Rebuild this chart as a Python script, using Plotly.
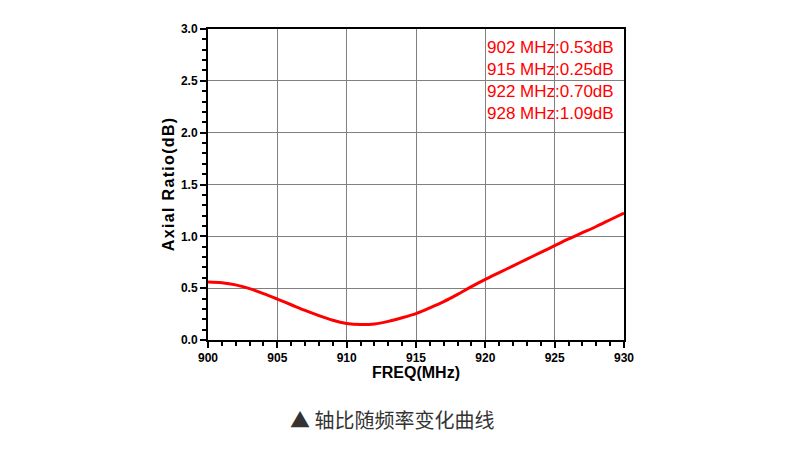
import plotly.graph_objects as go

# Axial ratio vs frequency
freq_mhz = [900, 901, 902, 903, 904, 905, 906, 907, 908, 909, 910,
            911, 912, 913, 914, 915, 916, 917, 918, 919, 920,
            921, 922, 923, 924, 925, 926, 927, 928, 929, 930]
axial_ratio_db = [0.56, 0.553, 0.532, 0.495, 0.448, 0.395, 0.34, 0.285, 0.235, 0.19, 0.16,
                  0.15, 0.155, 0.18, 0.215, 0.255, 0.31, 0.37, 0.44, 0.515, 0.585,
                  0.65, 0.715, 0.78, 0.845, 0.91, 0.975, 1.035, 1.095, 1.16, 1.225]

marker_labels = ["902 MHz:0.53dB", "915 MHz:0.25dB", "922 MHz:0.70dB", "928 MHz:1.09dB"]
x_title = "FREQ(MHz)"
y_title = "Axial Ratio(dB)"
caption = "▲ 轴比随频率变化曲线"

fig = go.Figure(go.Scatter(
    x=freq_mhz, y=axial_ratio_db, mode="lines",
    line=dict(color="#ff0000", width=3, shape="spline", smoothing=0.8),
    showlegend=False,
))

tick_font = dict(family="Arial, Liberation Sans", size=12, color="black", weight="bold")

fig.update_xaxes(
    range=[900, 930], dtick=5, tick0=900,
    showline=True, linecolor="black", linewidth=2, mirror=True,
    showgrid=True, gridcolor="#808080", gridwidth=1, zeroline=False,
    ticks="outside", ticklen=6, tickwidth=2, tickcolor="black",
    minor=dict(dtick=1, ticks="outside", ticklen=4, tickwidth=2, tickcolor="black", showgrid=False),
    tickfont=tick_font,
)
fig.update_yaxes(
    range=[0, 3], dtick=0.5, tick0=0, tickformat=".1f",
    showline=True, linecolor="black", linewidth=2, mirror=True,
    showgrid=True, gridcolor="#808080", gridwidth=1, zeroline=False,
    ticks="outside", ticklen=6, tickwidth=2, tickcolor="black",
    minor=dict(dtick=0.1, ticks="outside", ticklen=4, tickwidth=2, tickcolor="black", showgrid=False),
    tickfont=tick_font,
    # hair spaces give the slightly letter-spaced look of the original
    title=dict(text="<b>" + "\u200a".join(y_title) + "</b>",
               font=dict(family="Arial, Liberation Sans", size=16, color="black"), standoff=2),
)

fig.add_annotation(
    xref="paper", yref="paper", x=0.5, y=-0.105, xanchor="center", yanchor="middle",
    text="<b>" + x_title + "</b>", showarrow=False,
    font=dict(family="Arial, Liberation Sans", size=16, color="black"),
)
fig.add_annotation(
    xref="paper", yref="paper", x=0.667, y=0.978, xanchor="left", yanchor="top",
    text="<br>".join(marker_labels), align="left", showarrow=False,
    font=dict(family="Arial, Liberation Sans", size=17, color="#ff0000"),
)
fig.add_annotation(
    xref="paper", yref="paper", x=0.443, y=-0.257, xanchor="center", yanchor="middle",
    text=caption, showarrow=False,
    font=dict(family="Noto Sans CJK SC", size=20, color="#333333"),
)

# page body adds an 8px offset, so margins are shifted accordingly
fig.update_layout(
    width=790, height=468,
    margin=dict(l=200, r=174, t=21, b=136),
    paper_bgcolor="white", plot_bgcolor="white",
)

fig.write_html("out.html")
